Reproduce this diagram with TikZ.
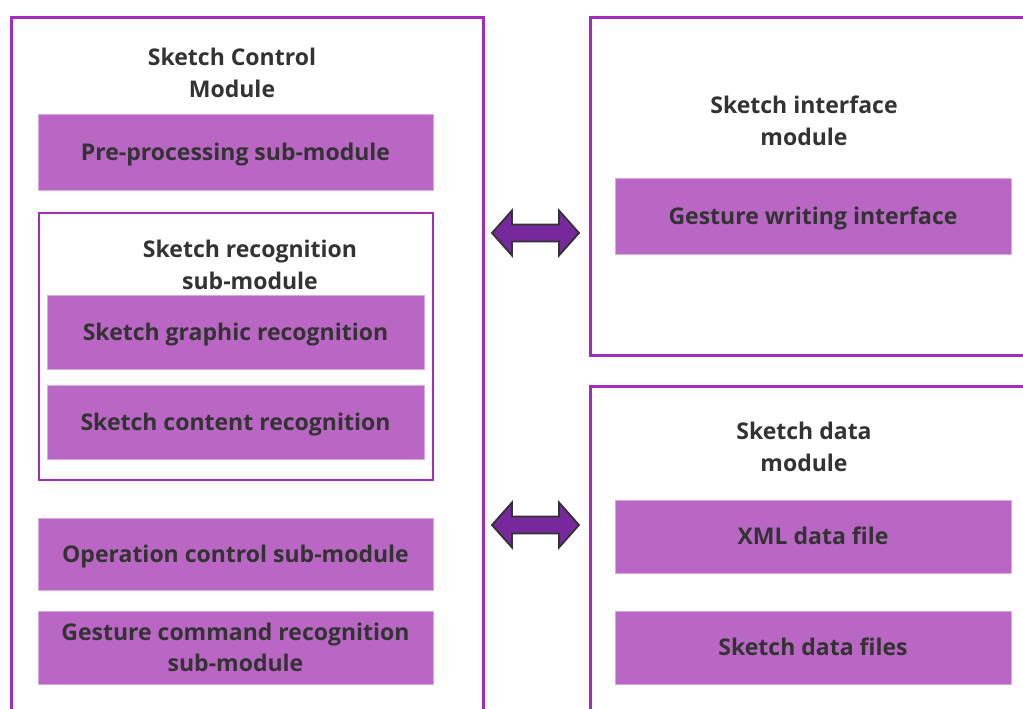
\documentclass[tikz,border=0pt]{standalone}
\usepackage{fontspec}
\setmainfont{Open Sans}
\definecolor{framepurple}{HTML}{A12DB9}
\definecolor{blockpurple}{HTML}{B966C4}
\definecolor{blockedge}{HTML}{D9A8E0}
\definecolor{txt}{HTML}{333333}
\definecolor{arrowfill}{HTML}{76289C}
\definecolor{arrowedge}{HTML}{333333}
\newcommand{\labelfont}{\fontsize{23}{31}\selectfont\bfseries}
\newcommand{\headfont}{\fontsize{23}{32.5}\selectfont\bfseries}
\begin{document}
\begin{tikzpicture}[x=1pt,y=-1pt,
  frame/.style={draw=framepurple, line width=2.6pt},
  subframe/.style={draw=framepurple, line width=2pt},
  block/.style={rectangle, fill=blockpurple, draw=blockedge, line width=0.6pt,
    text=txt, font=\labelfont, align=center, inner sep=0pt},
  oneline/.style={text height=20pt, text depth=4pt},
  heading/.style={text=txt, font=\headfont, align=center, inner sep=0pt},
  link/.style={draw=arrowedge, fill=arrowfill, line width=1.8pt, line join=miter}]
\useasboundingbox (0,0) rectangle (1023,709);
\clip (0,0) rectangle (1023,709);
\fill[white] (0,0) rectangle (1023,709);

% module frames
\node[frame, rectangle, inner sep=0pt, minimum width=472pt, minimum height=704pt,
  anchor=north west] (ctrl) at (10,16) {};
\node[subframe, rectangle, inner sep=0pt, minimum width=394pt, minimum height=267pt,
  anchor=north west] (recog) at (38,212) {};
\node[frame, rectangle, inner sep=0pt, minimum width=460pt, minimum height=338pt,
  anchor=north west] (iface) at (589,16) {};
\node[frame, rectangle, inner sep=0pt, minimum width=460pt, minimum height=340pt,
  anchor=north west] (data) at (589,385) {};

% headings
\node[heading] (ctrlT) at (232,73) {Sketch Control\\Module};
\node[heading] (recogT) at (250,265) {Sketch recognition\\sub-module};
\node[heading] (ifaceT) at (804,121) {Sketch interface\\module};
\node[heading] (dataT) at (804,447) {Sketch data\\module};

% sub-modules
\node[block, oneline, minimum width=395pt, minimum height=76pt] (pre) at (235.5,152) {Pre-processing sub-module};
\node[block, oneline, minimum width=377pt, minimum height=74pt] (graph) at (235.5,332) {Sketch graphic recognition};
\node[block, oneline, minimum width=377pt, minimum height=74pt] (cont) at (235.5,422) {Sketch content recognition};
\node[block, oneline, minimum width=395pt, minimum height=72pt] (oper) at (235.5,554) {Operation control sub-module};
\node[block, minimum width=395pt, minimum height=73pt] (gest) at (235.5,647.5) {Gesture command recognition\\sub-module};
\node[block, oneline, minimum width=396pt, minimum height=76pt] (gwi) at (813,216) {Gesture writing interface};
\node[block, oneline, minimum width=396pt, minimum height=73pt] (xml) at (813,536.5) {XML data file};
\node[block, oneline, minimum width=396pt, minimum height=73pt] (sdf) at (813,647.5) {Sketch data files};

% two-way links between the modules
\coordinate (linkA) at (535.5,233);
\coordinate (linkB) at (535.5,525);
\foreach \c in {linkA,linkB}{
  \draw[link] ([xshift=-43.5pt]\c) -- ++(20,-22.5) -- ++(0,14) -- ++(47,0) -- ++(0,-14)
    -- ([xshift=43.5pt]\c) -- ++(-20,22.5) -- ++(0,-14) -- ++(-47,0) -- ++(0,14) -- cycle;
}
\end{tikzpicture}
\end{document}
